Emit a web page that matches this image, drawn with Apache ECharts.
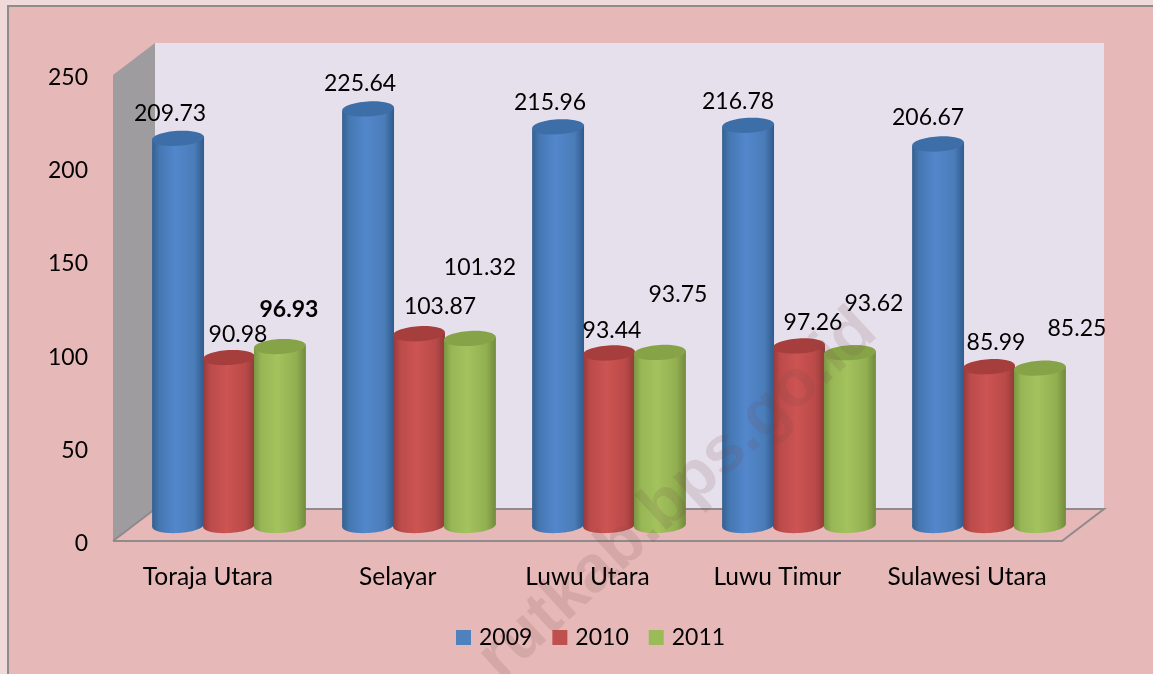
<!DOCTYPE html>
<html>
<head>
<meta charset="utf-8">
<style>
  html, body { margin: 0; padding: 0; background: #f0dad9; overflow: hidden; }
  #panel { position: absolute; left: 7px; top: 5px; right: 0; bottom: 0; background: #e6b9b8; border-left: 2px solid #8f8b8b; border-top: 2px solid #8f8b8b; }
  #chart { position: absolute; left: 0; top: 0; width: 1153px; height: 674px; }
</style>
</head>
<body>
<div id="panel"></div>
<div id="chart"></div>
<script src="https://cdn.jsdelivr.net/npm/echarts@6/dist/echarts.min.js"></script>
<script>
"use strict";

const categories = ["Toraja Utara", "Selayar", "Luwu Utara", "Luwu Timur", "Sulawesi Utara"];
const years = ["2009", "2010", "2011"];
const values2009 = [209.73, 225.64, 215.96, 216.78, 206.67];
const values2010 = [90.98, 103.87, 93.44, 97.26, 85.99];
const values2011 = [96.93, 101.32, 93.75, 93.62, 85.25];
const yTicks = { min: 0, max: 250, interval: 50 };

// where the original author dragged each data label, px from the top of its bar
const shifts2009 = [[-8, -25], [-8, -25], [-8, -24], [-10, -24], [-10, -26]];
const shifts2010 = [[9, -23], [21, -27], [3, -22], [14, -23], [7, -24]];
const shifts2011 = [[9, -37], [10, -71], [18, -58], [24, -49], [37, -40]];

const FONT = "Lato";
const FONT_SIZE = 23;
const DEPTH_X = 42;
const DEPTH_Y = 32;
const TILT = 3.4 * Math.PI / 180;

const skins = [
  { swatch: "#4f81bd", cap: "#3d6ea8", stops: ["#33608f", "#4577b2", "#5387cc", "#4a7cb8", "#2f5a8c"] },
  { swatch: "#c0504d", cap: "#a53e3d", stops: ["#96393a", "#bb4b4a", "#cc5452", "#b94a48", "#8f3a38"] },
  { swatch: "#9bbb59", cap: "#87a348", stops: ["#7a9542", "#97b655", "#a3c35e", "#92af50", "#72893c"] }
];

function bodyGradient(stops) {
  return new echarts.graphic.LinearGradient(0, 0, 1, 0, [
    { offset: 0, color: stops[0] },
    { offset: 0.14, color: stops[1] },
    { offset: 0.45, color: stops[2] },
    { offset: 0.82, color: stops[3] },
    { offset: 1, color: stops[4] }
  ]);
}

// back wall, side wall and floor, hung off the front plane of the axes
function renderWalls(params) {
  const c = params.coordSys;
  const left = c.x, right = c.x + c.width, top = c.y, bottom = c.y + c.height;
  const line = { stroke: "#8f8a8c", lineWidth: 2 };
  return {
    type: "group",
    children: [
      {
        type: "polygon",
        shape: { points: [[left + DEPTH_X, top - DEPTH_Y], [right + DEPTH_X, top - DEPTH_Y], [right + DEPTH_X, bottom - DEPTH_Y], [left + DEPTH_X, bottom - DEPTH_Y]] },
        style: { fill: "#e6e0ec" }
      },
      {
        type: "polygon",
        shape: { points: [[left, top], [left + DEPTH_X, top - DEPTH_Y], [left + DEPTH_X, bottom - DEPTH_Y], [left, bottom]] },
        style: { fill: "#9e9c9f" }
      },
      {
        type: "polyline",
        shape: { points: [[left, bottom], [left + DEPTH_X, bottom - DEPTH_Y], [right + DEPTH_X, bottom - DEPTH_Y], [right, bottom], [left, bottom]] },
        style: Object.assign({ fill: "#e6b9b8" }, line)
      }
    ]
  };
}

function cylinderRenderer(seriesIndex, shifts) {
  const skin = skins[seriesIndex];
  return function (params, api) {
    const catIndex = api.value(0);
    const value = api.value(1);
    const band = api.size([1, 0])[0];
    const slot = band * 0.268;
    const base = api.coord([catIndex, 0]);
    const top = api.coord([catIndex, value]);
    const cx = base[0] + (seriesIndex - 1) * slot;
    const rx = slot / 2 + 0.5;
    const ry = 7.5;
    const lift = Math.tan(TILT) * rx;
    const shift = shifts[catIndex];
    const fill = bodyGradient(skin.stops);
    const ellipse = (y, color) => ({
      type: "ellipse",
      x: cx,
      y: y,
      rotation: TILT,
      shape: { cx: 0, cy: 0, rx: rx, ry: ry },
      style: { fill: color }
    });
    return {
      type: "group",
      children: [
        ellipse(base[1], fill),
        {
          type: "polygon",
          shape: { points: [[cx - rx, top[1] + lift], [cx + rx, top[1] - lift], [cx + rx, base[1] - lift], [cx - rx, base[1] + lift]] },
          style: { fill: fill }
        },
        ellipse(top[1], skin.cap),
        {
          type: "text",
          x: cx + shift[0],
          y: top[1] + shift[1],
          z2: 10,
          style: {
            text: value.toFixed(2),
            fill: "#000",
            font: (value === values2011[0] ? "bold " : "") + FONT_SIZE + "px " + FONT,
            align: "center",
            verticalAlign: "middle"
          }
        }
      ]
    };
  };
}

function cylinderSeries(i, values, shifts) {
  return {
    name: years[i],
    type: "custom",
    xAxisIndex: 1,
    yAxisIndex: 1,
    z: 3 + i,
    silent: true,
    clip: false,
    itemStyle: { color: skins[i].swatch },
    encode: { x: 0, y: 1 },
    data: values.map((v, k) => [k, v]),
    renderItem: cylinderRenderer(i, shifts)
  };
}

const chart = echarts.init(document.getElementById("chart"));

chart.setOption({
  animation: false,
  backgroundColor: "transparent",
  textStyle: { fontFamily: FONT, color: "#000" },
  grid: [
    { left: 113, top: 75, width: 949, height: 466 },   // front plane, carries the visible axes
    { left: 134, top: 64, width: 950, height: 461.5 }  // plane the cylinders stand on
  ],
  legend: {
    data: years,
    left: 451,
    top: 621,
    icon: "rect",
    itemWidth: 15,
    itemHeight: 15,
    itemGap: 20,
    selectedMode: false,
    textStyle: { fontFamily: FONT, fontSize: FONT_SIZE, color: "#000", padding: [0, 0, 0, 3] }
  },
  xAxis: [
    {
      gridIndex: 0,
      type: "category",
      data: categories,
      axisLine: { show: false },
      axisTick: { show: false },
      axisLabel: { fontFamily: FONT, fontSize: 24.5, color: "#000", margin: 24, interval: 0 }
    },
    { gridIndex: 1, type: "category", data: categories, show: false }
  ],
  yAxis: [
    {
      gridIndex: 0,
      type: "value",
      min: yTicks.min,
      max: yTicks.max,
      interval: yTicks.interval,
      axisLine: { show: false },
      axisTick: { show: false },
      splitLine: { show: false },
      axisLabel: {
        margin: 25,
        formatter: "{t|{value}}",
        rich: { t: { fontFamily: FONT, fontSize: FONT_SIZE, color: "#000", padding: [5, 0, 0, 0] } }
      }
    },
    { gridIndex: 1, type: "value", min: yTicks.min, max: yTicks.max, show: false }
  ],
  series: [
    {
      type: "custom",
      xAxisIndex: 0,
      yAxisIndex: 0,
      z: 1,
      silent: true,
      clip: false,
      data: [0],
      renderItem: renderWalls
    },
    cylinderSeries(0, values2009, shifts2009),
    cylinderSeries(1, values2010, shifts2010),
    cylinderSeries(2, values2011, shifts2011)
  ],
  graphic: [
    {
      type: "text",
      x: 678,
      y: 495,
      rotation: 42.5 * Math.PI / 180,
      silent: true,
      z: 100,
      style: {
        text: "rutkab.bps.go.id",
        font: "bold 66px 'Liberation Sans'",
        fill: "rgba(110,70,70,0.14)",
        align: "center",
        verticalAlign: "middle"
      }
    }
  ]
});
</script>
</body>
</html>
